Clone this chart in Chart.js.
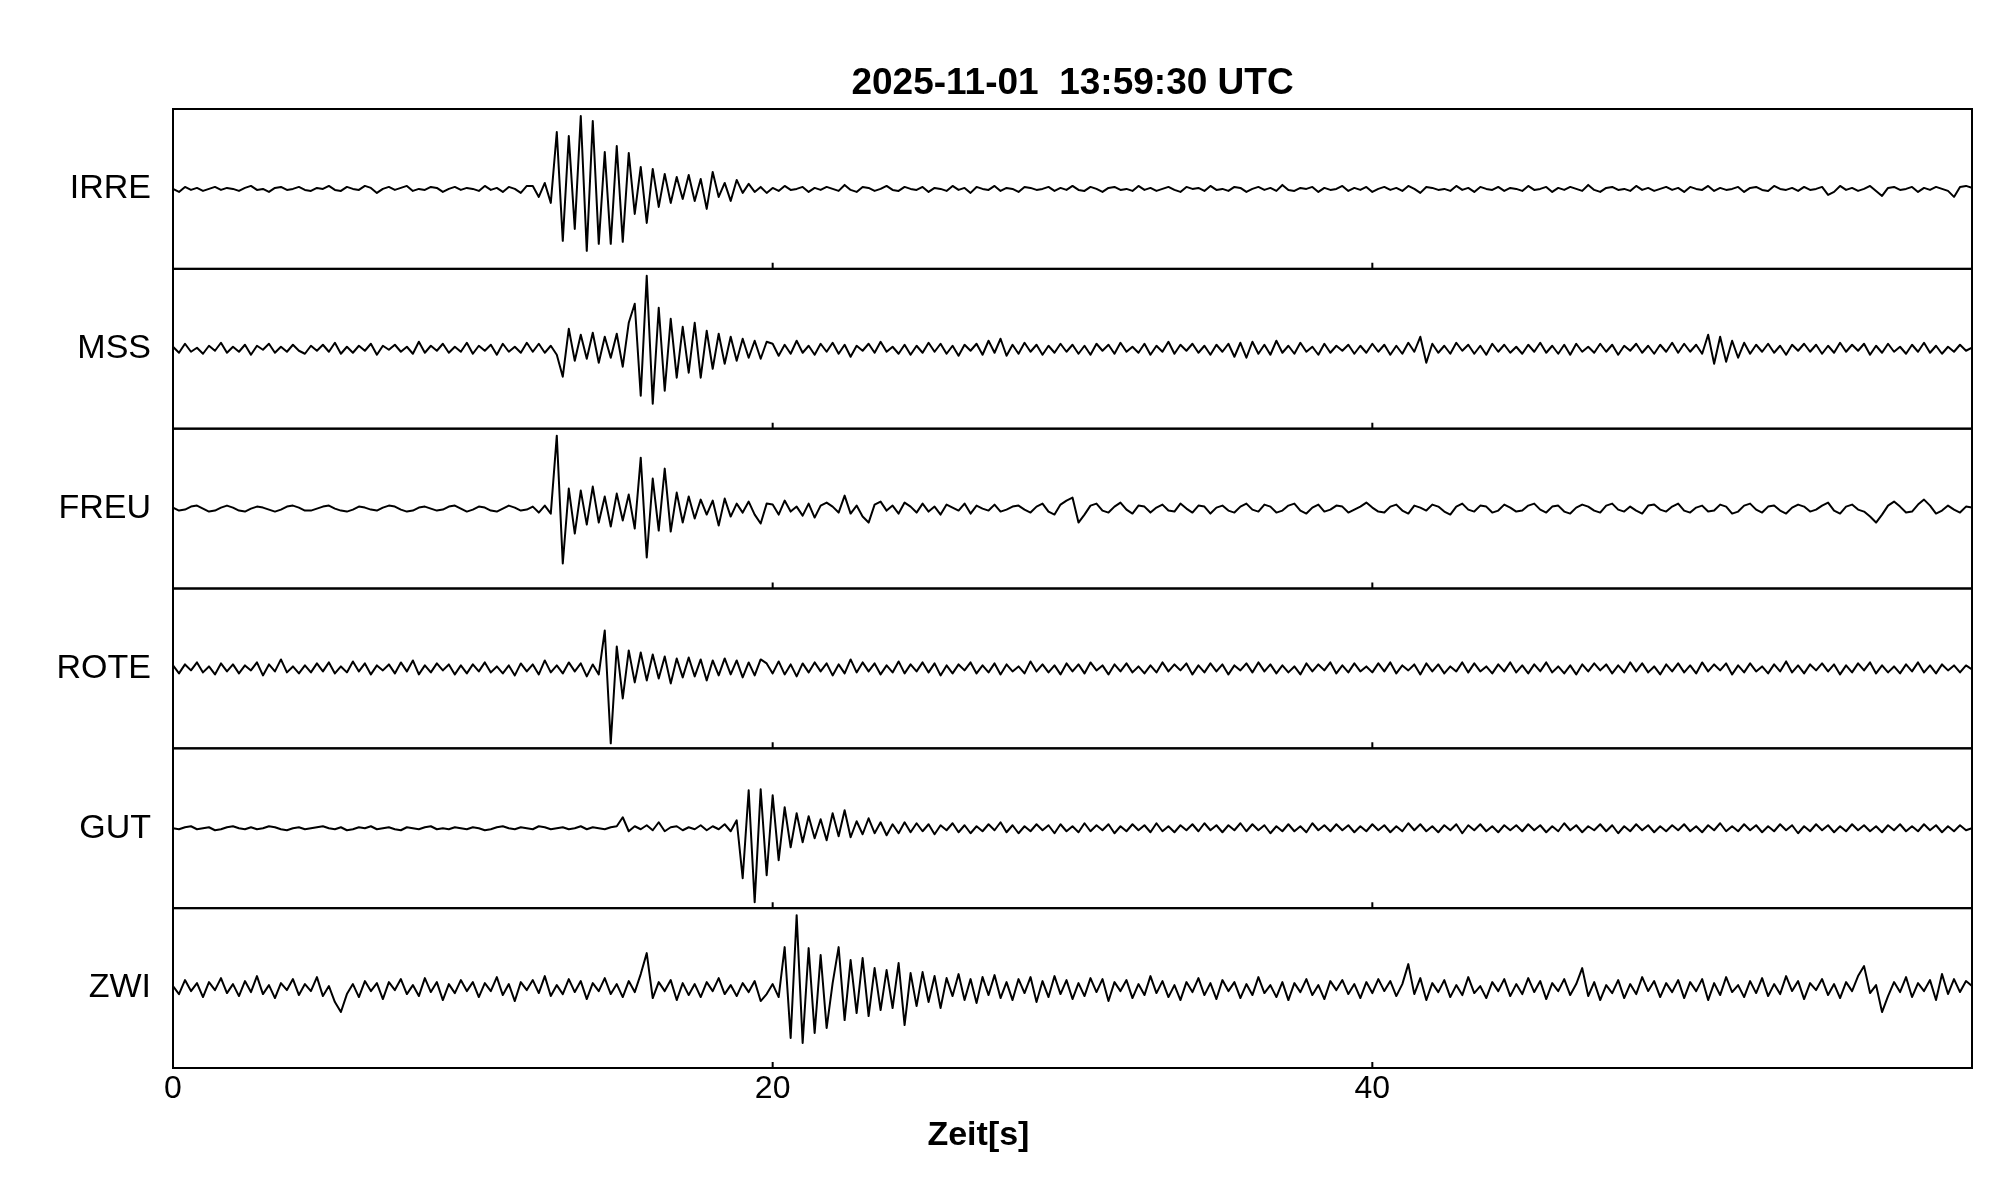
<!DOCTYPE html>
<html>
<head>
<meta charset="utf-8">
<script src="https://cdn.jsdelivr.net/npm/chart.js@4.4.1/dist/chart.umd.min.js"></script>
<style>
  html, body { margin: 0; padding: 0; background: #fff; }
  #wrap { width: 2005px; height: 1202px; }
</style>
</head>
<body>
<div id="wrap"><canvas id="plot" width="2005" height="1202"></canvas></div>
<script>
// traces, one value every 0.2 s (arbitrary amplitude, panel = -80..80)
const DT = 0.2;
const stations = ['IRRE', 'MSS', 'FREU', 'ROTE', 'GUT', 'ZWI'];
const timeTicks = [0, 20, 40];

const irre = [
  0,-3,2,-1,1,-2,0,2,-1,1,0,-2,1,3,-1,0,-3,1,2,-1,0,2,-1,-2,1,
  0,3,-1,-2,2,0,-1,3,1,-4,0,2,-1,1,3,-2,0,-1,2,1,-3,0,2,-1,1,
  0,-2,3,-1,1,-3,2,0,-4,3,3,-8,6,-14,57,-52,53,-40,73,-62,68,-55,37,-55,43,
  -53,36,-25,22,-34,20,-18,15,-14,12,-10,14,-12,10,-20,17,-8,6,-12,9,-4,5,-3,2,-4,
  1,-2,3,-1,0,2,-3,1,-1,2,0,-2,4,-1,-3,2,1,-2,0,3,-1,-2,2,0,-1,
  2,-3,1,0,-2,3,-1,1,-4,2,0,-1,3,-2,1,0,-3,2,1,-1,0,2,-2,1,-1,
  3,-1,-2,2,0,-3,1,2,-1,0,-2,3,-1,1,-2,0,2,-1,-3,2,0,1,-2,3,-1,
  0,-2,2,1,-3,0,2,-1,1,-2,4,-1,-2,1,0,2,-3,1,-1,0,3,-2,1,-1,2,
  -3,0,2,-1,1,-2,3,0,-4,2,1,-1,0,-2,3,-1,1,-3,2,0,-1,2,-2,1,0,
  -2,3,-1,0,2,-3,1,-1,2,0,-2,4,-1,-3,1,2,-1,0,-2,3,-1,1,-2,0,2,
  -1,1,-3,2,0,-1,3,-2,1,-1,0,2,-3,1,2,-1,-2,3,0,-1,1,-2,2,-1,0,
  2,-6,-3,3,-1,1,-2,0,3,-2,-7,1,2,-1,0,2,-3,1,-1,2,0,-2,-8,2,3,
  1
];
const mss = [
  2,-4,5,-3,1,-5,3,-2,6,-4,2,-3,4,-6,3,-1,5,-4,2,-3,4,-2,-5,3,-2,
  4,-3,6,-5,2,-4,3,-2,5,-6,3,-1,4,-3,2,-5,7,-4,3,-2,5,-4,2,-3,6,
  -5,3,-2,4,-6,5,-3,2,-4,6,-3,5,-4,3,-6,-28,20,-12,14,-10,16,-14,12,-9,15,
  -18,26,45,-47,73,-55,41,-42,30,-29,22,-24,26,-29,18,-20,15,-15,12,-12,10,-9,8,-10,7,
  5,-7,4,-5,8,-4,3,-6,5,-3,6,-5,4,-8,3,-2,5,-4,7,-3,2,-5,4,-6,3,
  -4,6,-3,5,-5,3,-7,4,-2,5,-6,8,-4,10,-7,4,-5,6,-3,4,-6,3,-4,5,-3,
  4,-5,3,-6,5,-2,4,-5,6,-3,2,-4,5,-6,3,-3,7,-5,4,-2,5,-4,3,-6,4,
  -3,5,-8,6,-9,7,-5,4,-6,8,-4,3,-5,6,-3,2,-6,5,-4,3,-2,4,-5,3,-4,
  5,-3,4,-6,3,-5,6,-3,12,-14,5,-4,3,-5,6,-2,4,-5,3,-6,5,-3,4,-4,2,
  -5,4,-3,6,-4,3,-5,4,-6,5,-3,2,-4,5,-3,4,-6,3,-2,5,-4,3,-5,4,-3,
  6,-4,5,-3,4,-5,14,-15,12,-13,8,-9,6,-5,4,-3,5,-4,3,-6,4,-2,5,-3,4,
  -5,3,-4,6,-3,4,-2,5,-6,3,-4,5,-3,2,-5,4,-3,6,-4,3,-5,2,-3,4,-2,
  1
];
const freu = [
  1,-2,-1,2,3,0,-3,-2,1,3,1,-2,-3,0,2,1,-1,-3,-1,2,3,1,-2,-2,0,
  2,3,0,-2,-3,-1,2,1,-1,-2,1,3,2,-1,-3,-2,1,2,0,-2,-1,2,3,0,-3,
  -1,2,1,-2,-3,0,3,1,-2,-1,2,-4,3,-5,73,-55,20,-25,18,-16,22,-14,12,-18,15,
  -12,14,-20,51,-49,30,-22,40,-23,16,-14,12,-10,9,-6,8,-17,10,-8,5,-4,7,-6,-15,5,
  4,-6,8,-3,2,-7,5,-9,3,6,2,-4,13,-5,3,-8,-14,4,7,-2,3,-5,6,2,-4,
  5,-3,2,-6,4,1,-2,5,-5,3,0,-2,4,-3,-1,2,3,-1,-4,2,5,-3,-6,4,8,
  11,-14,-6,3,5,-2,-4,2,6,-1,-5,3,2,-4,1,4,-2,-3,5,0,-4,3,2,-5,1,
  3,-2,-4,2,5,-1,-3,4,2,-4,-2,3,5,-2,-5,1,4,-3,-1,3,2,-4,-1,2,6,
  1,-3,-4,2,4,-2,-5,3,1,-2,4,2,-3,-6,2,5,-1,-3,3,2,-4,-2,4,1,-3,
  -2,3,5,-1,-4,2,3,-3,-5,1,4,2,-2,-4,3,5,-1,-3,2,-2,-5,3,4,-1,-3,
  2,5,-2,-4,1,3,-3,-2,4,2,-5,-3,3,5,-1,-4,2,3,-2,-5,1,4,2,-3,-1,
  3,6,-2,-5,2,4,-1,-3,-8,-14,-6,3,7,2,-4,-3,4,9,3,-5,-2,3,-1,-4,2,
  1
];
const rote = [
  3,-5,4,-2,6,-4,2,-6,5,-3,4,-5,3,-2,6,-7,4,-3,9,-4,2,-5,3,-4,5,
  -3,6,-5,2,-4,7,-3,5,-6,3,-2,4,-5,6,-3,8,-6,3,-4,5,-2,4,-6,3,-5,
  4,-3,6,-4,2,-5,3,-7,5,-3,4,-6,8,-4,3,-5,6,-3,5,-8,4,-6,38,-75,22,
  -30,18,-14,16,-12,14,-10,12,-15,10,-9,11,-8,9,-12,8,-7,10,-6,8,-9,6,-7,9,5,
  -5,7,-6,4,-8,5,-4,6,-3,5,-7,4,-5,9,-4,6,-3,5,-6,3,-4,7,-5,4,-3,
  6,-4,5,-7,3,-5,4,-2,6,-5,3,-4,5,-6,4,-3,2,-5,7,-3,4,-4,3,-6,5,
  -3,4,-5,6,-2,3,-6,4,-3,5,-4,2,-5,3,-4,6,-3,4,-2,5,-6,3,-4,5,-3,
  4,-6,3,-2,5,-4,6,-3,4,-5,3,-4,2,-6,5,-3,4,-2,6,-5,3,-4,5,-3,2,
  -4,5,-3,6,-5,3,-2,4,-6,5,-3,4,-5,2,-3,6,-4,5,-3,2,-5,4,-3,6,-4,
  3,-5,4,-3,6,-4,2,-5,3,-6,4,-3,5,-2,4,-5,3,-4,6,-3,5,-4,2,-6,4,
  -3,5,-4,3,-5,6,-3,4,-2,5,-6,3,-4,5,-3,2,-5,4,-3,7,-4,3,-5,4,-2,
  5,-3,4,-6,3,-4,5,-2,6,-5,3,-4,2,-5,4,-3,6,-4,3,-5,4,-2,3,-4,3,
  -1
];
const gut = [
  0,-1,1,2,-1,0,1,-2,-1,1,2,0,-1,1,-1,0,2,1,-1,-2,0,1,-1,0,1,
  2,0,-1,1,-2,-1,1,0,2,-1,0,1,-1,-2,1,0,-1,1,2,-1,0,-1,1,0,-1,
  1,0,-2,-1,1,2,0,-1,1,0,-1,2,1,-1,0,1,-1,0,2,-1,1,0,-1,1,2,
  11,-3,2,-1,3,-2,6,-3,1,2,-2,1,-1,3,-2,2,-1,4,-3,8,-50,38,-74,39,-47,
  33,-32,21,-19,15,-14,12,-10,9,-12,15,-8,18,-9,7,-6,10,-5,6,-7,4,-5,6,-4,5,
  -3,4,-6,3,-2,5,-4,3,-5,2,-3,4,-2,6,-4,3,-5,2,-3,4,-2,3,-5,4,-3,
  2,-4,5,-3,3,-2,4,-5,2,-3,4,-2,3,-4,5,-3,2,-4,3,-2,4,-3,5,-2,3,
  -4,3,-2,5,-3,4,-2,3,-5,2,-3,4,-3,2,-4,5,-2,3,-3,4,-2,3,-4,2,-3,
  4,-2,3,-4,2,-3,5,-2,4,-3,2,-4,3,-2,4,-5,3,-2,4,-3,2,-4,3,-2,3,
  -3,4,-2,3,-4,2,-3,5,-2,3,-4,2,-2,4,-3,3,-5,2,-3,4,-2,3,-4,2,-3,
  3,-2,4,-3,2,-4,3,-2,5,-3,2,-3,4,-2,3,-4,2,-3,4,-2,3,-5,2,-3,4,
  -2,3,-4,2,-3,4,-2,3,-3,2,-4,3,-2,4,-3,2,-3,4,-2,3,-4,2,-3,3,-2,
  0
];
const zwi = [
  2,-6,8,-3,5,-9,6,-2,10,-5,4,-8,7,-4,12,-6,3,-10,5,-2,9,-7,4,-3,11,
  -8,2,-14,-24,-6,4,-9,7,-3,5,-11,6,-2,9,-6,3,-8,10,-4,6,-12,4,-5,8,-3,
  6,-9,5,-3,11,-7,4,-13,6,-2,8,-5,12,-8,3,-6,9,-4,7,-11,5,-3,10,-6,4,
  -9,7,-4,14,35,-10,6,-3,8,-12,5,-7,4,-9,6,-3,10,-6,3,-8,5,-4,7,-13,-6,
  4,-9,41,-50,73,-55,40,-45,33,-40,5,41,-32,28,-25,30,-28,20,-22,18,-20,25,-37,15,-18,
  16,-14,12,-20,10,-8,14,-12,9,-15,11,-7,13,-10,6,-12,9,-5,11,-14,7,-9,12,-6,8,
  -11,5,-8,10,-4,9,-13,6,-3,8,-10,4,-7,12,-5,7,-9,3,-12,6,-4,10,-7,5,-11,
  8,-3,6,-10,4,-7,11,-5,3,-9,6,-12,5,-4,9,-7,3,-11,7,-2,8,-6,4,-10,6,
  -5,9,-3,7,-8,4,24,-6,10,-12,5,-4,8,-9,3,-7,11,-5,2,-10,6,-3,9,-8,4,
  -6,10,-4,7,-11,5,-3,9,-7,4,20,-8,6,-12,3,-5,8,-10,4,-6,11,-3,7,-9,5,
  -4,8,-10,6,-3,9,-12,5,-7,11,-4,3,-9,7,-5,10,-8,4,-6,12,-3,7,-11,5,-2,
  9,-7,4,-10,6,-3,12,22,-5,3,-24,-8,6,-4,11,-9,5,-3,8,-12,14,-6,9,-4,7,
  2
];
const traces = [irre, mss, freu, rote, gut, zwi];

const ctx = document.getElementById('plot');
Chart.defaults.font.family = '"Liberation Sans", Arial, sans-serif';
Chart.defaults.color = '#000';

const datasets = stations.map((name, i) => ({
  label: name,
  data: traces[i].map((v, k) => ({x: k * DT, y: v})),
  yAxisID: 'y' + i,
  borderColor: '#000',
  borderWidth: 2,
  borderJoinStyle: 'round',
  pointRadius: 0,
  tension: 0,
  fill: false,
}));

const scales = {
  x: {
    type: 'linear',
    min: 0,
    max: 60,
    afterFit: s => { s.height = 134; },
    afterBuildTicks: s => { s.ticks = timeTicks.map(v => ({value: v})); },
    ticks: { font: {size: 32}, padding: 2, autoSkip: false, maxRotation: 0 },
    grid: { display: false, drawTicks: false },
    border: { display: false },
  }
};
// stacked axes go bottom-up in the order they are declared
for (let i = stations.length - 1; i >= 0; i--) {
  scales['y' + i] = {
    type: 'linear',
    position: 'left',
    stack: 'panels',
    stackWeight: 1,
    min: -80,
    max: 80,
    afterFit: s => { s.width = 173; },
    afterBuildTicks: s => { s.ticks = [{value: 0}]; },
    ticks: { callback: () => stations[i], font: {size: 34}, padding: 22, autoSkip: false },
    grid: { display: false, drawTicks: false },
    border: { display: false },
  };
}

// boxes around each trace, inward ticks, and the time-axis title
const panelFrame = {
  id: 'panelFrame',
  afterDraw(chart) {
    const {ctx, chartArea: a, scales} = chart;
    ctx.save();
    ctx.strokeStyle = '#000';
    ctx.lineWidth = 2;
    stations.forEach((name, i) => {
      const s = scales['y' + i];
      ctx.strokeRect(a.left, s.top, a.right - a.left, s.bottom - s.top);
      ctx.beginPath();
      timeTicks.slice(1).forEach(t => {
        const px = scales.x.getPixelForValue(t);
        ctx.moveTo(px, s.bottom);
        ctx.lineTo(px, s.bottom - 6);
      });
      ctx.stroke();
    });
    ctx.fillStyle = '#000';
    ctx.font = 'bold 34px "Liberation Sans", Arial, sans-serif';
    ctx.textAlign = 'center';
    ctx.textBaseline = 'middle';
    ctx.fillText('Zeit[s]', chart.width * 0.488, a.bottom + 68);
    ctx.restore();
  }
};

const config = {
  type: 'line',
  data: { datasets: datasets },
  options: {
    responsive: false,
    animation: false,
    devicePixelRatio: 1,
    events: [],
    layout: { padding: { left: 0, right: 33, top: 0, bottom: 0 } },
    plugins: {
      legend: { display: false },
      tooltip: { enabled: false },
      title: {
        display: true,
        text: '2025-11-01  13:59:30 UTC',
        fullSize: false,
        color: '#000',
        font: { size: 37, weight: 'bold' },
        padding: { top: 62, bottom: 2.6 }
      }
    },
    scales: scales
  },
  plugins: [panelFrame]
};

const chart = new Chart(ctx, config);
</script>
</body>
</html>
